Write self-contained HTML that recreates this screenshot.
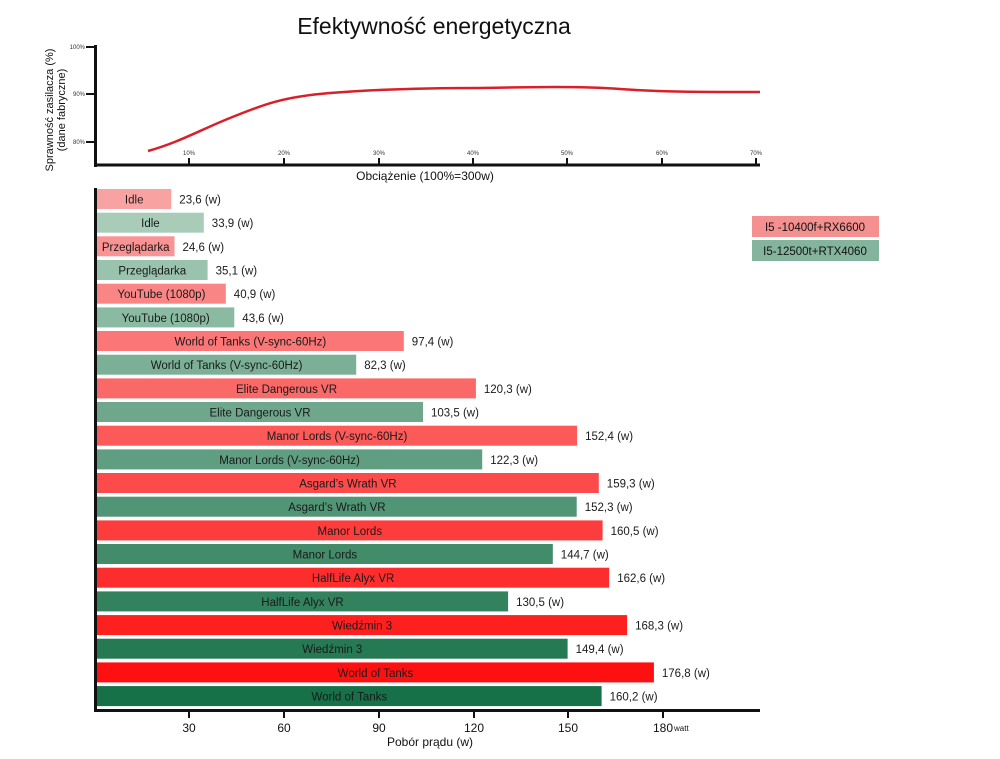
<!DOCTYPE html>
<html><head><meta charset="utf-8"><style>
body{margin:0;background:#fff}
svg{display:block;font-family:"Liberation Sans",sans-serif}
</style></head><body>
<svg id="s" width="1000" height="759" xmlns="http://www.w3.org/2000/svg">
<text x="434" y="34" font-size="23" text-anchor="middle" fill="#111">Efektywność energetyczna</text>
<!-- top chart -->
<line x1="95.5" y1="45" x2="95.5" y2="167" stroke="#111" stroke-width="3"/>
<line x1="94" y1="165" x2="760" y2="165" stroke="#111" stroke-width="3"/>
<g stroke="#111" stroke-width="2">
<line x1="86" y1="47" x2="95" y2="47"/><line x1="86" y1="94" x2="95" y2="94"/><line x1="86" y1="142" x2="95" y2="142"/>
<line x1="189" y1="158" x2="189" y2="165"/><line x1="284" y1="158" x2="284" y2="165"/><line x1="379" y1="158" x2="379" y2="165"/><line x1="473" y1="158" x2="473" y2="165"/><line x1="567" y1="158" x2="567" y2="165"/><line x1="662" y1="158" x2="662" y2="165"/><line x1="756" y1="158" x2="756" y2="165"/>
</g>
<g font-size="6" fill="#333" text-anchor="end">
<text x="85" y="49">100%</text><text x="85" y="96">90%</text><text x="85" y="144">80%</text></g>
<g font-size="6" fill="#333" text-anchor="middle">
<text x="189" y="155">10%</text><text x="284" y="155">20%</text><text x="379" y="155">30%</text><text x="473" y="155">40%</text><text x="567" y="155">50%</text><text x="662" y="155">60%</text><text x="756" y="155">70%</text></g>
<text transform="translate(53,110) rotate(-90)" font-size="11" text-anchor="middle" fill="#111">Sprawność zasilacza (%)</text>
<text transform="translate(65,110) rotate(-90)" font-size="11" text-anchor="middle" fill="#111">(dane fabryczne)</text>
<path d="M148,151 C180,142 200,130 230,118 C260,106 280,97 330,93 C380,89 430,88 480,88 C530,87 580,86 620,89 C660,92 700,92 760,92" fill="none" stroke="#d9202a" stroke-width="2.5"/>
<text x="425" y="180" font-size="12" text-anchor="middle" fill="#111">Obciążenie (100%=300w)</text>
<!-- bottom axes -->
<line x1="95.5" y1="188" x2="95.5" y2="712" stroke="#111" stroke-width="3"/>
<line x1="94" y1="710.5" x2="760" y2="710.5" stroke="#111" stroke-width="3"/>
<g stroke="#111" stroke-width="2">
<line x1="189" y1="710" x2="189" y2="718"/><line x1="284" y1="710" x2="284" y2="718"/><line x1="379" y1="710" x2="379" y2="718"/><line x1="474" y1="710" x2="474" y2="718"/><line x1="568" y1="710" x2="568" y2="718"/><line x1="663" y1="710" x2="663" y2="718"/></g>
<g font-size="12" fill="#111" text-anchor="middle">
<text x="189" y="732">30</text><text x="284" y="732">60</text><text x="379" y="732">90</text><text x="474" y="732">120</text><text x="568" y="732">150</text><text x="663" y="732">180</text></g>
<text x="674" y="731" font-size="8" fill="#111">watt</text>
<text x="430" y="746" font-size="12" text-anchor="middle" fill="#111">Pobór prądu (w)</text>
<!-- legend -->
<rect x="752" y="216" width="127" height="21" fill="#f49090"/>
<text x="815" y="231" font-size="11.5" text-anchor="middle" fill="#111">I5 -10400f+RX6600</text>
<rect x="752" y="240" width="127" height="21" fill="#84b49c"/>
<text x="815" y="255" font-size="11.5" text-anchor="middle" fill="#111">I5-12500t+RTX4060</text>
<g id="bars"></g>
</svg>
<script>
var d=[["Idle",23.6],["Idle",33.9],["Przeglądarka",24.6],["Przeglądarka",35.1],["YouTube (1080p)",40.9],["YouTube (1080p)",43.6],["World of Tanks (V-sync-60Hz)",97.4],["World of Tanks (V-sync-60Hz)",82.3],["Elite Dangerous VR",120.3],["Elite Dangerous VR",103.5],["Manor Lords (V-sync-60Hz)",152.4],["Manor Lords (V-sync-60Hz)",122.3],["Asgard’s Wrath VR",159.3],["Asgard’s Wrath VR",152.3],["Manor Lords",160.5],["Manor Lords",144.7],["HalfLife Alyx VR",162.6],["HalfLife Alyx VR",130.5],["Wiedźmin 3",168.3],["Wiedźmin 3",149.4],["World of Tanks",176.8],["World of Tanks",160.2]];
var h="";
for(var i=0;i<d.length;i++){
 var y=189+23.67*i,w=d[i][1]*3.15,r=Math.floor(i/2)/10,c;
 if(i%2==0){c="rgb("+Math.round(249+6*r)+","+Math.round(162-146*r)+","+Math.round(162-146*r)+")";}
 else{c="rgb("+Math.round(168-146*r)+","+Math.round(204-92*r)+","+Math.round(184-112*r)+")";}
 h+='<rect x="97" y="'+y.toFixed(1)+'" width="'+w.toFixed(1)+'" height="20" fill="'+c+'"/>';
 h+='<text x="'+(97+w/2).toFixed(1)+'" y="'+(y+14.5).toFixed(1)+'" font-size="11.5" text-anchor="middle" fill="#1a1a1a">'+d[i][0]+'</text>';
 h+='<text x="'+(97+w+8).toFixed(1)+'" y="'+(y+14.5).toFixed(1)+'" font-size="11.5" fill="#1a1a1a">'+String(d[i][1]).replace(".",",")+' (w)</text>';
}
document.getElementById("bars").innerHTML=h;
</script>
</body></html>
